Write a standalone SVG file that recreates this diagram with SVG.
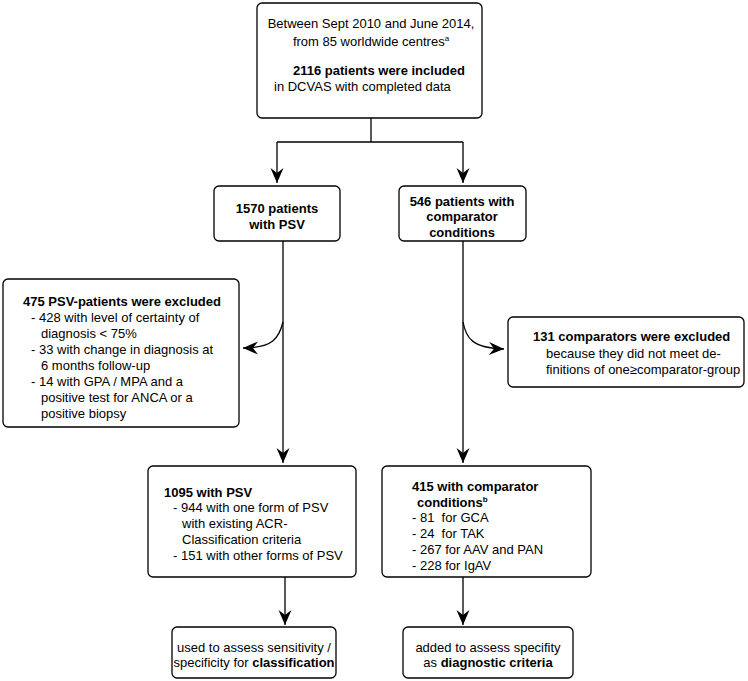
<svg xmlns="http://www.w3.org/2000/svg" width="748" height="681" viewBox="0 0 748 681">
<style>
  .box { fill: #fff; stroke: #000; stroke-width: 1.3; }
  .t { font-family: "Liberation Sans", Arial, sans-serif; font-size: 13px; fill: #000; }
  .b { font-weight: bold; }
  .c { text-anchor: middle; }
  .conn { fill: none; stroke: #000; stroke-width: 1.3; }
</style>
<defs>
  <marker id="arr" markerUnits="userSpaceOnUse" markerWidth="18" markerHeight="16" viewBox="-16 -8 18 16" refX="0" refY="0" orient="auto">
    <path d="M0,0 L-15,-6.5 L-10,0 L-15,6.5 Z" fill="#000"/>
  </marker>
</defs>
<rect width="748" height="681" fill="#fff"/>

<g id="connectors">
  <path class="conn" d="M371,118 V142"/>
  <path class="conn" d="M277,142 H463"/>
  <path class="conn" d="M277,142 V183" marker-end="url(#arr)"/>
  <path class="conn" d="M463,142 V183" marker-end="url(#arr)"/>
  <path class="conn" d="M283,241 V463" marker-end="url(#arr)"/>
  <path class="conn" d="M463,241 V463" marker-end="url(#arr)"/>
  <path class="conn" d="M283,322 C279,338 273,348 243,348" marker-end="url(#arr)"/>
  <path class="conn" d="M463,322 C466,338 472,348 504,349" marker-end="url(#arr)"/>
  <path class="conn" d="M285,577 V625" marker-end="url(#arr)"/>
  <path class="conn" d="M463,577 V625" marker-end="url(#arr)"/>
</g>

<g id="n-top">
  <rect class="box" x="257" y="3" width="225" height="115" rx="5"/>
  <text class="t c" x="371" y="28">Between Sept 2010 and June 2014,</text>
  <text class="t c" x="371" y="46">from 85 worldwide centres<tspan font-size="8" dy="-5">a</tspan></text>
  <text class="t b" x="293" y="75">2116 patients were included</text>
  <text class="t" x="274" y="91">in DCVAS with completed data</text>
</g>

<g id="n-psv">
  <rect class="box" x="214" y="186" width="126" height="55" rx="5"/>
  <text class="t b c" x="277" y="213">1570 patients</text>
  <text class="t b c" x="277" y="229">with PSV</text>
</g>

<g id="n-comp">
  <rect class="box" x="399" y="186" width="127" height="55" rx="5"/>
  <text class="t b c" x="462" y="206">546 patients with</text>
  <text class="t b c" x="462" y="221">comparator</text>
  <text class="t b c" x="462" y="237">conditions</text>
</g>

<g id="n-excl-psv">
  <rect class="box" x="3" y="279" width="236" height="148" rx="5"/>
  <text class="t b" x="23" y="306">475 PSV-patients were excluded</text>
  <text class="t" x="31" y="322">- 428 with level of certainty of</text>
  <text class="t" x="41" y="338">diagnosis &lt; 75%</text>
  <text class="t" x="31" y="354">- 33 with change in diagnosis at</text>
  <text class="t" x="41" y="370">6 months follow-up</text>
  <text class="t" x="31" y="386">- 14 with GPA / MPA and a</text>
  <text class="t" x="41" y="402">positive test for ANCA or a</text>
  <text class="t" x="41" y="418">positive biopsy</text>
</g>

<g id="n-excl-comp">
  <rect class="box" x="508" y="317" width="236" height="70" rx="5"/>
  <text class="t b" x="533" y="341">131 comparators were excluded</text>
  <text class="t" x="546" y="358">because they did not meet de-</text>
  <text class="t" x="546" y="374">finitions of one≥comparator-group</text>
</g>

<g id="n-psv-final">
  <rect class="box" x="148" y="466" width="208" height="111" rx="5"/>
  <text class="t b" x="164" y="497">1095 with PSV</text>
  <text class="t" x="173" y="512">- 944 with one form of PSV</text>
  <text class="t" x="182" y="528">with existing ACR-</text>
  <text class="t" x="182" y="544">Classification criteria</text>
  <text class="t" x="173" y="560">- 151 with other forms of PSV</text>
</g>

<g id="n-comp-final">
  <rect class="box" x="382" y="466" width="209" height="111" rx="5"/>
  <text class="t b" x="412" y="491">415 with comparator</text>
  <text class="t b" x="417" y="507">conditions<tspan font-size="8" dy="-5">b</tspan></text>
  <text class="t" x="412" y="522" xml:space="preserve">- 81  for GCA</text>
  <text class="t" x="412" y="538" xml:space="preserve">- 24  for TAK</text>
  <text class="t" x="412" y="554">- 267 for AAV and PAN</text>
  <text class="t" x="412" y="570">- 228 for IgAV</text>
</g>

<g id="n-classification">
  <rect class="box" x="172" y="627" width="164" height="51" rx="5"/>
  <text class="t c" x="254" y="652">used to assess sensitivity /</text>
  <text class="t c" x="254" y="667">specificity for <tspan class="b">classification</tspan></text>
</g>

<g id="n-diagnostic">
  <rect class="box" x="403" y="627" width="170" height="51" rx="5"/>
  <text class="t c" x="488" y="652">added to assess specifity</text>
  <text class="t c" x="488" y="667">as <tspan class="b">diagnostic criteria</tspan></text>
</g>
</svg>
